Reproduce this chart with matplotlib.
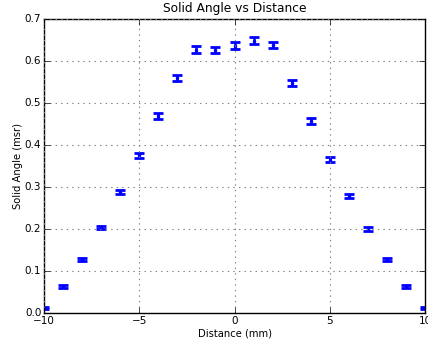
import numpy as np
import matplotlib
matplotlib.use('Agg')
import matplotlib.pyplot as plt

plt.style.use('classic')

# distance of the detector from the source axis
distance = [-10, -9, -8, -7, -6, -5, -4, -3, -2, -1, 0,
            1, 2, 3, 4, 5, 6, 7, 8, 9, 10]
solid_angle = [0.012, 0.063, 0.127, 0.203, 0.288, 0.375, 0.468, 0.559, 0.627, 0.626, 0.636,
               0.648, 0.638, 0.548, 0.457, 0.364, 0.279, 0.200, 0.127, 0.063, 0.012]
error = [0.003, 0.004, 0.004, 0.004, 0.005, 0.006, 0.007, 0.007, 0.008, 0.008, 0.008,
         0.008, 0.008, 0.007, 0.007, 0.006, 0.005, 0.004, 0.004, 0.004, 0.003]

fig = plt.figure(figsize=(4.28, 3.43), dpi=100, facecolor='white')
ax = fig.add_axes([0.103, 0.088, 0.890, 0.857])
ax.errorbar(distance, solid_angle, yerr=error, fmt='b.', ecolor='b',
            capsize=3.5, elinewidth=1.8, capthick=2, markersize=4)
ax.set_xlim(-10, 10)
ax.set_ylim(0, 0.7)
ax.set_xticks([-10, -5, 0, 5, 10])
ax.set_yticks(np.arange(0, 0.71, 0.1))
ax.grid(True, color='0.5', linestyle=':', linewidth=0.8)
ax.tick_params(labelsize=7.5, pad=2)
ax.set_xlabel('Distance (mm)', fontsize=7.2, labelpad=2)
ax.set_ylabel('Solid Angle (msr)', fontsize=7.2, labelpad=1)
ax.set_title('Solid Angle vs Distance', fontsize=8.8, y=1.0)
fig.savefig('out.png', dpi=100, facecolor='white')
